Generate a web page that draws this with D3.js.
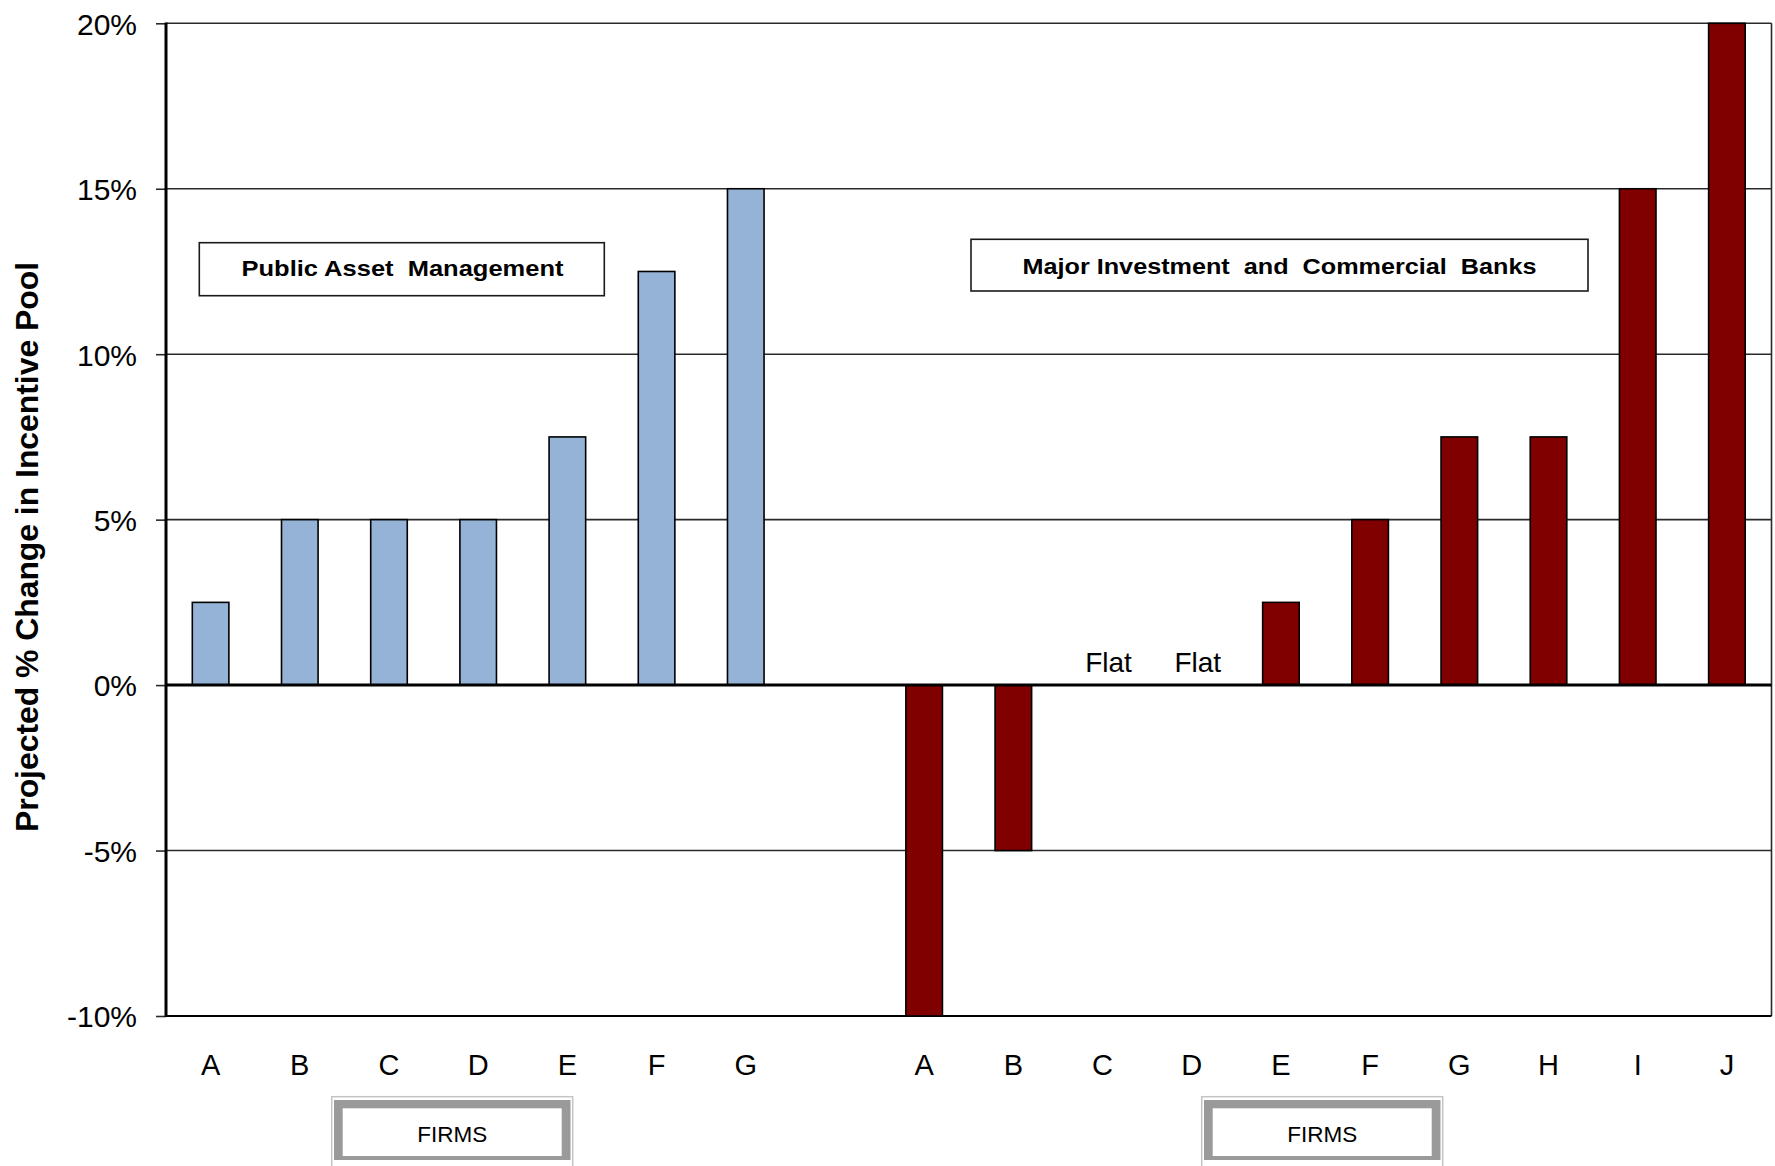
<!DOCTYPE html>
<html>
<head>
<meta charset="utf-8">
<script src="https://cdn.jsdelivr.net/npm/d3@7"></script>
<style>
  html, body { margin: 0; padding: 0; background: #fff; }
  svg { display: block; font-family: Arial, "Liberation Sans", sans-serif; }
</style>
</head>
<body>
<svg id="chart" width="1775" height="1166"></svg>
<script>
// ---- data ----
const pamFirms = ["A", "B", "C", "D", "E", "F", "G"];
const pamValues = [2.5, 5, 5, 5, 7.5, 12.5, 15];
const bankFirms = ["A", "B", "C", "D", "E", "F", "G", "H", "I", "J"];
const bankValues = [-10, -5, 0, 0, 2.5, 5, 7.5, 7.5, 15, 20];
const yTicks = [-10, -5, 0, 5, 10, 15, 20];
const pamTitle = "Public Asset  Management";
const bankTitle = "Major Investment  and  Commercial  Banks";
const flatText = "Flat";
const firmsText = "FIRMS";
const yTitle = "Projected % Change in Incentive Pool";

(function () {
// ---- build rows ----
const rows = [];
pamFirms.forEach((f, i) => rows.push({ key: "pam-" + f, label: f, value: pamValues[i], group: "pam" }));
rows.push({ key: "gap", label: "", value: null, group: "gap" });
bankFirms.forEach((f, i) => rows.push({ key: "bank-" + f, label: f, value: bankValues[i], group: "bank" }));

const svg = d3.select("#chart");
const pLeft = 166, pRight = 1771.5, pTop = 23.3, pBottom = 1016;

const x = d3.scaleBand()
  .domain(rows.map(d => d.key))
  .range([pLeft, pRight])
  .paddingInner(0.59)
  .paddingOuter(0.295);

const y = d3.scaleLinear().domain([-10, 20]).range([pBottom, pTop]);

const colors = { pam: "#95B3D7", bank: "#800000" };

// gridlines
svg.append("g").selectAll("line")
  .data(yTicks.filter(t => t !== 0 && t !== -10))
  .join("line")
  .attr("x1", pLeft).attr("x2", pRight)
  .attr("y1", d => y(d)).attr("y2", d => y(d))
  .attr("stroke", "#2a2a2a").attr("stroke-width", 1.6);

// right border
svg.append("line")
  .attr("x1", pRight).attr("x2", pRight)
  .attr("y1", pTop).attr("y2", pBottom)
  .attr("stroke", "#2a2a2a").attr("stroke-width", 1.6);

// bottom line
svg.append("line")
  .attr("x1", pLeft).attr("x2", pRight)
  .attr("y1", pBottom).attr("y2", pBottom)
  .attr("stroke", "#000").attr("stroke-width", 2.2);

// bars
svg.append("g").selectAll("rect")
  .data(rows.filter(d => d.value !== null && d.value !== 0))
  .join("rect")
  .attr("x", d => x(d.key))
  .attr("width", x.bandwidth())
  .attr("y", d => y(Math.max(0, d.value)))
  .attr("height", d => Math.abs(y(d.value) - y(0)))
  .attr("fill", d => colors[d.group])
  .attr("stroke", "#000")
  .attr("stroke-width", 1.6);

// zero line
svg.append("line")
  .attr("x1", pLeft).attr("x2", pRight)
  .attr("y1", y(0)).attr("y2", y(0))
  .attr("stroke", "#000").attr("stroke-width", 3);

// Flat labels
svg.append("g").selectAll("text")
  .data(rows.filter(d => d.value === 0))
  .join("text")
  .attr("x", d => x(d.key) + x.bandwidth() / 2 + 6)
  .attr("y", y(0) - 13.5)
  .attr("text-anchor", "middle")
  .attr("font-size", 28)
  .attr("fill", "#000")
  .text(flatText);

// y axis
const yAxis = svg.append("g")
  .attr("transform", `translate(${pLeft},0)`)
  .call(d3.axisLeft(y).tickValues(yTicks).tickSize(10).tickPadding(19).tickFormat(d => d + "%"));
yAxis.select(".domain").remove();
yAxis.selectAll(".tick line").attr("stroke", "#2a2a2a").attr("stroke-width", 1.6);
yAxis.selectAll(".tick text")
  .attr("font-size", 30)
  .attr("font-family", "Arial, 'Liberation Sans', sans-serif")
  .attr("fill", "#000")
  .attr("dy", "0.36em");

svg.append("line")
  .attr("x1", pLeft).attr("x2", pLeft)
  .attr("y1", pTop - 0.8).attr("y2", pBottom + 1)
  .attr("stroke", "#000").attr("stroke-width", 3);

// x axis
const xAxis = svg.append("g")
  .attr("transform", `translate(0,${pBottom})`)
  .call(d3.axisBottom(x).tickSize(0).tickPadding(38.4).tickFormat(k => rows.find(r => r.key === k).label));
xAxis.select(".domain").remove();
xAxis.selectAll(".tick text")
  .attr("font-size", 29)
  .attr("font-family", "Arial, 'Liberation Sans', sans-serif")
  .attr("fill", "#000");

// y axis title
svg.append("text")
  .attr("transform", "translate(38,547) rotate(-90)")
  .attr("text-anchor", "middle")
  .attr("font-size", 31.5)
  .attr("font-weight", "bold")
  .attr("textLength", 570)
  .attr("lengthAdjust", "spacingAndGlyphs")
  .attr("fill", "#000")
  .text(yTitle);

// group title boxes
function titleBox(bx, by, bw, bh, tx, ty, tl, txt) {
  svg.append("rect")
    .attr("x", bx).attr("y", by).attr("width", bw).attr("height", bh)
    .attr("fill", "#fff").attr("stroke", "#1a1a1a").attr("stroke-width", 1.6);
  svg.append("text")
    .attr("x", tx).attr("y", ty)
    .attr("text-anchor", "middle")
    .attr("font-size", 22)
    .attr("font-weight", "bold")
    .attr("textLength", tl)
    .attr("lengthAdjust", "spacingAndGlyphs")
    .attr("fill", "#000")
    .style("white-space", "pre")
    .text(txt);
}
titleBox(199.3, 242.7, 405, 53, 402.5, 276, 322, pamTitle);
titleBox(971, 239.3, 617, 51.7, 1279.5, 273.5, 514, bankTitle);

// FIRMS boxes
function firmsBox(ox) {
  svg.append("rect")
    .attr("x", ox).attr("y", 1096.7).attr("width", 241).attr("height", 80)
    .attr("fill", "none").attr("stroke", "#c4c4c4").attr("stroke-width", 1.5);
  svg.append("rect")
    .attr("x", ox + 2.3).attr("y", 1100).attr("width", 236.5).attr("height", 60)
    .attr("fill", "#9a9a9a");
  svg.append("rect")
    .attr("x", ox + 11).attr("y", 1108.3).attr("width", 219).attr("height", 47.7)
    .attr("fill", "#fff");
  svg.append("text")
    .attr("x", ox + 120.5).attr("y", 1142.3)
    .attr("text-anchor", "middle")
    .attr("font-size", 22.5)
    .attr("fill", "#000")
    .text(firmsText);
}
firmsBox(331.7);
firmsBox(1201.7);
})();
</script>
</body>
</html>
